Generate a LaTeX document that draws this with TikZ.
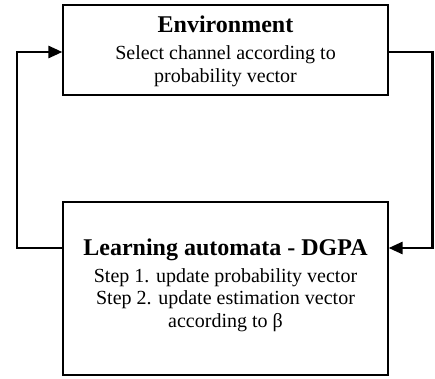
\documentclass[tikz,border=0pt]{standalone}
\usepackage{fontspec}
\setmainfont{Liberation Serif}
\usetikzlibrary{arrows.meta}
\begin{document}
\begin{tikzpicture}[x=1pt,y=1pt,
  box/.style={draw=black,line width=1.2pt,rectangle,inner sep=0pt},
  title/.style={font=\fontsize{24}{28}\selectfont\bfseries,anchor=base,inner sep=0pt},
  body/.style={font=\fontsize{20}{23}\selectfont,anchor=base,inner sep=0pt},
  conn/.style={line width=2.6pt},
  tip/.style={-{Triangle[length=14pt,width=12pt]}}]
\useasboundingbox (0,0) rectangle (435,378);
% boxes
\node[box,minimum width=325pt,minimum height=90pt] (env) at (225.5,328) {};
\node[box,minimum width=325pt,minimum height=173pt] (la) at (225.5,89.5) {};
% texts
\node[title] (envT) at (225.5,345) {Environment};
\node[body] (envA) at (225.5,318) {Select channel according to};
\node[body] (envB) at (225.5,295) {probability vector};
\node[title] (laT) at (225.5,123) {Learning automata - DGPA};
\node[body] (laA) at (225.5,96) {Step 1. update probability vector};
\node[body] (laB) at (225.5,74) {Step 2. update estimation vector};
\node[body] (laC) at (225.5,51) {according to β};
% connector coordinates
\coordinate (tR) at (432.5,326);
\coordinate (bR) at (432.5,130);
\coordinate (tL) at (17,326);
\coordinate (bL) at (17,130);
\draw[conn,tip] (env.east |- tR) -- (tR) -- (bR) -- (la.east |- bR);
\draw[conn,tip] (la.west |- bL) -- (bL) -- (tL) -- (env.west |- tL);
\end{tikzpicture}
\end{document}
